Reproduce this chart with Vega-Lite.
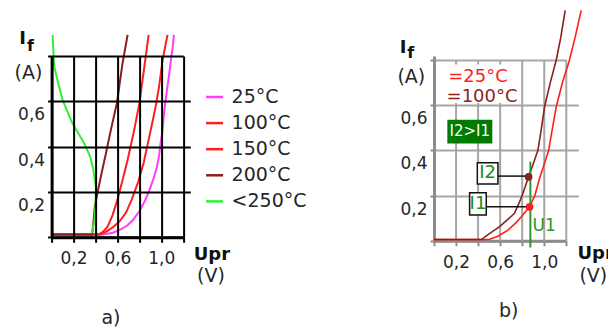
{
"$schema":"https://vega.github.io/schema/vega-lite/v6.json",
"background":"white",
"padding":{"left":13.6,"top":7,"right":0,"bottom":0},
"bounds":"flush",
"spacing":250.4,
"config":{"view":{"stroke":null},"font":"DejaVu Sans","text":{"font":"DejaVu Sans"},"axis":{"labelFont":"DejaVu Sans","labelFontSize":17,"labelColor":"#262626"}},
"resolve":{"scale":{"color":"independent"}},
"datasets":{
"curvesA":[
{"t":"25°C","i":0,"u":0,"a":0.012},{"t":"25°C","i":1,"u":0.47,"a":0.012},{"t":"25°C","i":2,"u":0.56,"a":0.02},{"t":"25°C","i":3,"u":0.63,"a":0.035},{"t":"25°C","i":4,"u":0.69,"a":0.052},{"t":"25°C","i":5,"u":0.74,"a":0.075},{"t":"25°C","i":6,"u":0.8,"a":0.115},{"t":"25°C","i":7,"u":0.85,"a":0.16},{"t":"25°C","i":8,"u":0.89,"a":0.205},{"t":"25°C","i":9,"u":0.93,"a":0.26},{"t":"25°C","i":10,"u":0.96,"a":0.31},{"t":"25°C","i":11,"u":0.98,"a":0.36},{"t":"25°C","i":12,"u":0.995,"a":0.42},{"t":"25°C","i":13,"u":1.008,"a":0.46},{"t":"25°C","i":14,"u":1.02,"a":0.52},{"t":"25°C","i":15,"u":1.035,"a":0.59},{"t":"25°C","i":16,"u":1.055,"a":0.66},{"t":"25°C","i":17,"u":1.075,"a":0.73},{"t":"25°C","i":18,"u":1.09,"a":0.79},{"t":"25°C","i":19,"u":1.105,"a":0.84},{"t":"25°C","i":20,"u":1.115,"a":0.893},
{"t":"100°C","i":0,"u":0,"a":0.012},{"t":"100°C","i":1,"u":0.44,"a":0.012},{"t":"100°C","i":2,"u":0.5,"a":0.025},{"t":"100°C","i":3,"u":0.56,"a":0.045},{"t":"100°C","i":4,"u":0.62,"a":0.07},{"t":"100°C","i":5,"u":0.68,"a":0.11},{"t":"100°C","i":6,"u":0.73,"a":0.165},{"t":"100°C","i":7,"u":0.79,"a":0.245},{"t":"100°C","i":8,"u":0.84,"a":0.33},{"t":"100°C","i":9,"u":0.88,"a":0.42},{"t":"100°C","i":10,"u":0.92,"a":0.51},{"t":"100°C","i":11,"u":0.95,"a":0.58},{"t":"100°C","i":12,"u":0.98,"a":0.665},{"t":"100°C","i":13,"u":1.01,"a":0.775},{"t":"100°C","i":14,"u":1.035,"a":0.84},{"t":"100°C","i":15,"u":1.057,"a":0.893},
{"t":"150°C","i":0,"u":0,"a":0.012},{"t":"150°C","i":1,"u":0.43,"a":0.012},{"t":"150°C","i":2,"u":0.47,"a":0.025},{"t":"150°C","i":3,"u":0.51,"a":0.047},{"t":"150°C","i":4,"u":0.556,"a":0.098},{"t":"150°C","i":5,"u":0.6,"a":0.165},{"t":"150°C","i":6,"u":0.647,"a":0.253},{"t":"150°C","i":7,"u":0.693,"a":0.341},{"t":"150°C","i":8,"u":0.753,"a":0.473},{"t":"150°C","i":9,"u":0.8,"a":0.59},{"t":"150°C","i":10,"u":0.845,"a":0.75},{"t":"150°C","i":11,"u":0.885,"a":0.893},
{"t":"200°C","i":0,"u":0,"a":0.012},{"t":"200°C","i":1,"u":0.37,"a":0.012},{"t":"200°C","i":2,"u":0.38,"a":0.06},{"t":"200°C","i":3,"u":0.395,"a":0.14},{"t":"200°C","i":4,"u":0.42,"a":0.2},{"t":"200°C","i":5,"u":0.45,"a":0.27},{"t":"200°C","i":6,"u":0.495,"a":0.37},{"t":"200°C","i":7,"u":0.54,"a":0.473},{"t":"200°C","i":8,"u":0.595,"a":0.591},{"t":"200°C","i":9,"u":0.647,"a":0.768},{"t":"200°C","i":10,"u":0.693,"a":0.893},
{"t":"<250°C","i":0,"u":0.009,"a":0.893},{"t":"<250°C","i":1,"u":0.024,"a":0.753},{"t":"<250°C","i":2,"u":0.06,"a":0.68},{"t":"<250°C","i":3,"u":0.1,"a":0.606},{"t":"<250°C","i":4,"u":0.19,"a":0.503},{"t":"<250°C","i":5,"u":0.297,"a":0.415},{"t":"<250°C","i":6,"u":0.352,"a":0.356},{"t":"<250°C","i":7,"u":0.38,"a":0.3},{"t":"<250°C","i":8,"u":0.404,"a":0.223},{"t":"<250°C","i":9,"u":0.4,"a":0.135},{"t":"<250°C","i":10,"u":0.39,"a":0.07},{"t":"<250°C","i":11,"u":0.365,"a":0.018}
],
"curvesB":[
{"t":"25°C","i":0,"u":0,"a":0.005},{"t":"25°C","i":1,"u":0.5,"a":0.005},{"t":"25°C","i":2,"u":0.58,"a":0.02},{"t":"25°C","i":3,"u":0.671,"a":0.047},{"t":"25°C","i":4,"u":0.74,"a":0.078},{"t":"25°C","i":5,"u":0.792,"a":0.106},{"t":"25°C","i":6,"u":0.867,"a":0.15},{"t":"25°C","i":7,"u":0.915,"a":0.2},{"t":"25°C","i":8,"u":0.96,"a":0.28},{"t":"25°C","i":9,"u":1.0,"a":0.34},{"t":"25°C","i":10,"u":1.04,"a":0.4},{"t":"25°C","i":11,"u":1.075,"a":0.5},{"t":"25°C","i":12,"u":1.109,"a":0.593},{"t":"25°C","i":13,"u":1.165,"a":0.7},{"t":"25°C","i":14,"u":1.229,"a":0.8},{"t":"25°C","i":15,"u":1.28,"a":0.9},{"t":"25°C","i":16,"u":1.335,"a":1.02},
{"t":"100°C","i":0,"u":0,"a":0.005},{"t":"100°C","i":1,"u":0.43,"a":0.005},{"t":"100°C","i":2,"u":0.5,"a":0.03},{"t":"100°C","i":3,"u":0.595,"a":0.062},{"t":"100°C","i":4,"u":0.66,"a":0.09},{"t":"100°C","i":5,"u":0.73,"a":0.121},{"t":"100°C","i":6,"u":0.77,"a":0.165},{"t":"100°C","i":7,"u":0.807,"a":0.21},{"t":"100°C","i":8,"u":0.858,"a":0.283},{"t":"100°C","i":9,"u":0.9,"a":0.34},{"t":"100°C","i":10,"u":0.943,"a":0.401},{"t":"100°C","i":11,"u":0.975,"a":0.5},{"t":"100°C","i":12,"u":1.003,"a":0.593},{"t":"100°C","i":13,"u":1.055,"a":0.7},{"t":"100°C","i":14,"u":1.109,"a":0.8},{"t":"100°C","i":15,"u":1.15,"a":0.9},{"t":"100°C","i":16,"u":1.19,"a":1.02}
]
},
"hconcat":[
{
"width":131.6,"height":181.3,
"resolve":{"axis":{"x":"independent","y":"independent"}},
"layer":[
{"data":{"name":"curvesA"},
"mark":{"type":"line","strokeWidth":2,"clip":false},
"encoding":{
"x":{"field":"u","type":"quantitative","scale":{"domain":[0,1.2],"nice":false,"zero":false},"axis":{"title":null,"values":[0,0.2,0.4,0.6,0.8,1,1.2],"labelExpr":"abs(datum.value-0.2)<0.01||abs(datum.value-0.6)<0.01||abs(datum.value-1)<0.01 ? replace(format(datum.value,'.1f'),'.',',') : ''","labelOverlap":false,"labelFlush":false,"grid":true,"gridColor":"#000","gridWidth":2,"gridOpacity":1,"domainColor":"#000","domainWidth":3,"tickColor":"#000","tickWidth":2,"tickSize":5,"labelPadding":8,"zindex":1}},
"y":{"field":"a","type":"quantitative","scale":{"domain":[0,0.8],"nice":false,"zero":false},"axis":{"title":null,"values":[0,0.2,0.4,0.6,0.8],"labelExpr":"datum.value>0.01&&datum.value<0.79 ? replace(format(datum.value,'.1f'),'.',',') : ''","labelOverlap":false,"labelFlush":false,"grid":true,"gridColor":"#000","gridWidth":2,"gridOpacity":1,"domainColor":"#000","domainWidth":3,"tickColor":"#000","tickWidth":2,"tickSize":4,"labelPadding":3,"labelOffset":13.5,"zindex":1}},
"color":{"field":"t","type":"nominal","scale":{"domain":["25°C","100°C","150°C","200°C","<250°C"],"range":["#ff3cff","#ff1e1e","#ff1e1e","#8b1e1e","#33ee33"]},"legend":{"title":null,"orient":"none","legendX":153,"legendY":31,"symbolType":"stroke","symbolSize":289,"symbolStrokeWidth":2.5,"labelFontSize":19,"labelFont":"DejaVu Sans","labelColor":"#262626","rowPadding":6.1,"labelOffset":7}},
"order":{"field":"i","type":"quantitative"}
}},
{"data":{"values":[{"s":"(A)","u":-0.2115,"a":0.724},{"s":"(V)","u":1.4525,"a":-0.171},{"s":"a)","u":0.541,"a":-0.354}]},
"mark":{"type":"text","fontSize":19,"color":"#262626","align":"center","baseline":"middle"},
"encoding":{
"x":{"field":"u","type":"quantitative","scale":{"domain":[0,1.2],"nice":false,"zero":false},"axis":null},
"y":{"field":"a","type":"quantitative","scale":{"domain":[0,0.8],"nice":false,"zero":false},"axis":{"title":null,"orient":"right","values":[0.2,0.4,0.6],"labels":false,"domain":false,"grid":false,"ticks":true,"tickSize":7,"tickColor":"#000","tickWidth":2,"zindex":1}},
"text":{"field":"s"}}},
{"data":{"values":[{"s":"I","u":-0.264,"a":0.873},{"s":"Upr","u":1.462,"a":-0.08}]},
"mark":{"type":"text","fontSize":18,"fontWeight":"bold","color":"#111","align":"center","baseline":"middle"},
"encoding":{
"x":{"field":"u","type":"quantitative","scale":{"domain":[0,1.2],"nice":false,"zero":false},"axis":null},
"y":{"field":"a","type":"quantitative","scale":{"domain":[0,0.8],"nice":false,"zero":false},"axis":null},
"text":{"field":"s"}}},
{"data":{"values":[{"s":"f","u":-0.193,"a":0.846}]},
"mark":{"type":"text","fontSize":16,"fontWeight":"bold","color":"#111","align":"center","baseline":"middle"},
"encoding":{
"x":{"field":"u","type":"quantitative","scale":{"domain":[0,1.2],"nice":false,"zero":false},"axis":null},
"y":{"field":"a","type":"quantitative","scale":{"domain":[0,0.8],"nice":false,"zero":false},"axis":null},
"text":{"field":"s"}}}
]
},
{
"width":132.3,"height":184.7,
"resolve":{"axis":{"x":"independent","y":"independent"}},
"layer":[
{"data":{"values":[{"g":0.2},{"g":0.4},{"g":0.6},{"g":0.8},{"g":1.0},{"g":1.2}]},
"mark":{"type":"rule","color":"#a6a6a6","strokeWidth":2},
"encoding":{
"x":{"field":"g","type":"quantitative","scale":{"domain":[0,1.2],"nice":false,"zero":false},"axis":{"title":null,"values":[0,0.2,0.4,0.6,0.8,1,1.2],"labelExpr":"abs(datum.value-0.2)<0.01||abs(datum.value-0.6)<0.01||abs(datum.value-1)<0.01 ? replace(format(datum.value,'.1f'),'.',',') : ''","labelOverlap":false,"labelFlush":false,"grid":false,"domainColor":"#8c8c8c","domainWidth":3,"tickColor":"#8c8c8c","tickWidth":2,"tickSize":5,"labelPadding":9}},
"y":{"datum":0,"type":"quantitative","scale":{"domain":[0,0.8177],"nice":false,"zero":false},"axis":null},
"y2":{"datum":0.8}}},
{"data":{"values":[{"u1":0.03,"u2":0.7,"a1":0.61,"a2":0.78}]},
"mark":{"type":"rect","fill":"white"},
"encoding":{
"x":{"field":"u1","type":"quantitative","scale":{"domain":[0,1.2],"nice":false,"zero":false},"axis":null},
"x2":{"field":"u2"},
"y":{"field":"a1","type":"quantitative","scale":{"domain":[0,0.8177],"nice":false,"zero":false},"axis":null},
"y2":{"field":"a2"}}},
{"data":{"name":"curvesB"},
"mark":{"type":"line","strokeWidth":1.6,"clip":false},
"encoding":{
"x":{"field":"u","type":"quantitative","scale":{"domain":[0,1.2],"nice":false,"zero":false},"axis":null},
"y":{"field":"a","type":"quantitative","scale":{"domain":[0,0.8177],"nice":false,"zero":false},"axis":{"title":null,"values":[0,0.2,0.4,0.6,0.8],"labelExpr":"datum.value>0.01&&datum.value<0.79 ? replace(format(datum.value,'.1f'),'.',',') : ''","labelOverlap":false,"labelFlush":false,"grid":true,"gridColor":"#a6a6a6","gridWidth":2,"gridOpacity":1,"domainColor":"#8c8c8c","domainWidth":3,"tickColor":"#8c8c8c","tickWidth":2,"tickSize":4,"labelPadding":3,"labelOffset":13.5}},
"color":{"field":"t","type":"nominal","scale":{"domain":["25°C","100°C"],"range":["#ff1e1e","#8b1e1e"]},"legend":null},
"order":{"field":"i","type":"quantitative"}
}},
{"data":{"values":[{"s":"(A)","u":-0.206,"a":0.726},{"s":"(V)","u":1.445,"a":-0.158},{"s":"b)","u":0.678,"a":-0.313}]},
"mark":{"type":"text","fontSize":19,"color":"#262626","align":"center","baseline":"middle"},
"encoding":{
"x":{"field":"u","type":"quantitative","scale":{"domain":[0,1.2],"nice":false,"zero":false},"axis":null},
"y":{"field":"a","type":"quantitative","scale":{"domain":[0,0.8177],"nice":false,"zero":false},"axis":{"title":null,"orient":"right","values":[0.2,0.4,0.6],"labels":false,"domain":false,"grid":false,"ticks":true,"tickSize":12,"tickColor":"#a6a6a6","tickWidth":2}},
"text":{"field":"s"}}},
{"data":{"values":[{"s":"I","u":-0.281,"a":0.855},{"s":"Upr","u":1.466,"a":-0.0575}]},
"mark":{"type":"text","fontSize":18,"fontWeight":"bold","color":"#111","align":"center","baseline":"middle"},
"encoding":{
"x":{"field":"u","type":"quantitative","scale":{"domain":[0,1.2],"nice":false,"zero":false},"axis":null},
"y":{"field":"a","type":"quantitative","scale":{"domain":[0,0.8177],"nice":false,"zero":false},"axis":null},
"text":{"field":"s"}}},
{"data":{"values":[{"s":"f","u":-0.21,"a":0.831}]},
"mark":{"type":"text","fontSize":16,"fontWeight":"bold","color":"#111","align":"center","baseline":"middle"},
"encoding":{
"x":{"field":"u","type":"quantitative","scale":{"domain":[0,1.2],"nice":false,"zero":false},"axis":null},
"y":{"field":"a","type":"quantitative","scale":{"domain":[0,0.8177],"nice":false,"zero":false},"axis":null},
"text":{"field":"s"}}},
{"data":{"values":[{"s":"=25°C","u":0.399,"a":0.725}]},
"mark":{"type":"text","fontSize":18,"color":"#ff1e1e","align":"center","baseline":"middle"},
"encoding":{
"x":{"field":"u","type":"quantitative","scale":{"domain":[0,1.2],"nice":false,"zero":false},"axis":null},
"y":{"field":"a","type":"quantitative","scale":{"domain":[0,0.8177],"nice":false,"zero":false},"axis":null},
"text":{"field":"s"}}},
{"data":{"values":[{"s":"=100°C","u":0.436,"a":0.634}]},
"mark":{"type":"text","fontSize":18,"color":"#8b1e1e","align":"center","baseline":"middle"},
"encoding":{
"x":{"field":"u","type":"quantitative","scale":{"domain":[0,1.2],"nice":false,"zero":false},"axis":null},
"y":{"field":"a","type":"quantitative","scale":{"domain":[0,0.8177],"nice":false,"zero":false},"axis":null},
"text":{"field":"s"}}},
{"data":{"values":[{"u1":0.121,"u2":0.529,"a1":0.43,"a2":0.536}]},
"mark":{"type":"rect","fill":"#007a00"},
"encoding":{
"x":{"field":"u1","type":"quantitative","scale":{"domain":[0,1.2],"nice":false,"zero":false},"axis":null},
"x2":{"field":"u2"},
"y":{"field":"a1","type":"quantitative","scale":{"domain":[0,0.8177],"nice":false,"zero":false},"axis":null},
"y2":{"field":"a2"}}},
{"data":{"values":[{"s":"I2>I1","u":0.325,"a":0.484}]},
"mark":{"type":"text","fontSize":15,"color":"white","align":"center","baseline":"middle"},
"encoding":{
"x":{"field":"u","type":"quantitative","scale":{"domain":[0,1.2],"nice":false,"zero":false},"axis":null},
"y":{"field":"a","type":"quantitative","scale":{"domain":[0,0.8177],"nice":false,"zero":false},"axis":null},
"text":{"field":"s"}}},
{"data":{"values":[{"u1":0.58,"u2":0.858,"a":0.286},{"u1":0.474,"u2":0.867,"a":0.15}]},
"mark":{"type":"rule","color":"#111","strokeWidth":1.5},
"encoding":{
"x":{"field":"u1","type":"quantitative","scale":{"domain":[0,1.2],"nice":false,"zero":false},"axis":null},
"x2":{"field":"u2"},
"y":{"field":"a","type":"quantitative","scale":{"domain":[0,0.8177],"nice":false,"zero":false},"axis":null}}},
{"data":{"values":[{"u1":0.393,"u2":0.58,"a1":0.251,"a2":0.345},{"u1":0.323,"u2":0.474,"a1":0.114,"a2":0.2125}]},
"mark":{"type":"rect","fill":"white","stroke":"#111","strokeWidth":1.5},
"encoding":{
"x":{"field":"u1","type":"quantitative","scale":{"domain":[0,1.2],"nice":false,"zero":false},"axis":null},
"x2":{"field":"u2"},
"y":{"field":"a1","type":"quantitative","scale":{"domain":[0,0.8177],"nice":false,"zero":false},"axis":null},
"y2":{"field":"a2"}}},
{"data":{"values":[{"s":"I2","u":0.486,"a":0.298},{"s":"I1","u":0.399,"a":0.163}]},
"mark":{"type":"text","fontSize":18,"color":"#1a8c1a","align":"center","baseline":"middle"},
"encoding":{
"x":{"field":"u","type":"quantitative","scale":{"domain":[0,1.2],"nice":false,"zero":false},"axis":null},
"y":{"field":"a","type":"quantitative","scale":{"domain":[0,0.8177],"nice":false,"zero":false},"axis":null},
"text":{"field":"s"}}},
{"data":{"values":[{"u":0.874,"a1":-0.03,"a2":0.35}]},
"mark":{"type":"rule","color":"#2a9a2a","strokeWidth":2},
"encoding":{
"x":{"field":"u","type":"quantitative","scale":{"domain":[0,1.2],"nice":false,"zero":false},"axis":null},
"y":{"field":"a1","type":"quantitative","scale":{"domain":[0,0.8177],"nice":false,"zero":false},"axis":null},
"y2":{"field":"a2"}}},
{"data":{"values":[{"s":"U1","u":1.0,"a":0.067}]},
"mark":{"type":"text","fontSize":17,"color":"#2a9a2a","align":"center","baseline":"middle"},
"encoding":{
"x":{"field":"u","type":"quantitative","scale":{"domain":[0,1.2],"nice":false,"zero":false},"axis":null},
"y":{"field":"a","type":"quantitative","scale":{"domain":[0,0.8177],"nice":false,"zero":false},"axis":null},
"text":{"field":"s"}}},
{"data":{"values":[{"t":"100°C","u":0.858,"a":0.283},{"t":"25°C","u":0.867,"a":0.15}]},
"mark":{"type":"point","filled":true,"size":60,"opacity":1},
"encoding":{
"x":{"field":"u","type":"quantitative","scale":{"domain":[0,1.2],"nice":false,"zero":false},"axis":null},
"y":{"field":"a","type":"quantitative","scale":{"domain":[0,0.8177],"nice":false,"zero":false},"axis":null},
"color":{"field":"t","type":"nominal","scale":{"domain":["25°C","100°C"],"range":["#ff1e1e","#8b1e1e"]},"legend":null}}}
]
}
]
}
